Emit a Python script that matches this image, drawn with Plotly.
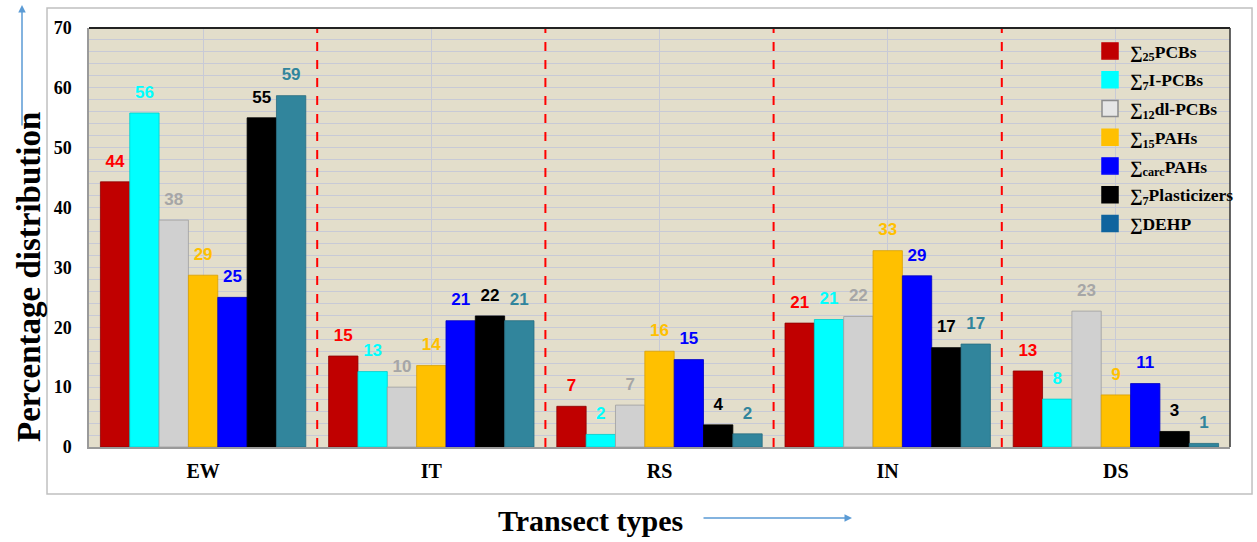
import plotly.graph_objects as go

categories = ["EW", "IT", "RS", "IN", "DS"]

series_names = [
    "∑<sub>25</sub>PCBs",
    "∑<sub>7</sub>I-PCBs",
    "∑<sub>12</sub>dl-PCBs",
    "∑<sub>15</sub>PAHs",
    "∑<sub>carc</sub>PAHs",
    "∑<sub>7</sub>Plasticizers",
    "∑DEHP",
]

pcbs25 = [44.3, 15.2, 6.8, 20.7, 12.7]
ipcbs7 = [55.8, 12.6, 2.1, 21.3, 8.0]
dlpcbs12 = [37.9, 10.0, 7.0, 21.8, 22.7]
pahs15 = [28.7, 13.6, 16.0, 32.8, 8.7]
carcpahs = [25.0, 21.1, 14.6, 28.6, 10.6]
plasticizers7 = [55.0, 21.9, 3.7, 16.6, 2.6]
dehp = [58.7, 21.1, 2.2, 17.2, 0.6]

series_values = [pcbs25, ipcbs7, dlpcbs12, pahs15, carcpahs, plasticizers7, dehp]

bar_colors = ["#C00000", "#00FFFF", "#D0D0D0", "#FFC000", "#0000FF", "#000000", "#31859C"]
legend_colors = ["#C00000", "#00FFFF", "#E6E6E6", "#FFC000", "#0000FF", "#000000", "#0F649E"]
label_colors = ["#FF0000", "#00FFFF", "#A6A6A6", "#FFC000", "#0000FF", "#000000", "#31859C"]
line_colors = ["#8B0000", "#00CCCC", "#A0A0A0", "#D9A000", "#0000C0", "#000000", "#276C80"]

y_ticks = [0, 10, 20, 30, 40, 50, 60, 70]

SERIF = "Liberation Serif, Times New Roman, serif"
SANS = "Liberation Sans, Arial, sans-serif"

fig = go.Figure()
# bars
for i, (name, vals) in enumerate(zip(series_names, series_values)):
    fig.add_trace(go.Bar(
        name=name, x=categories, y=vals, showlegend=False,
        marker=dict(color=bar_colors[i], line=dict(color=line_colors[i], width=0.8)),
        hoverinfo="x+y",
    ))
# value labels, grouped like the bars
for i, vals in enumerate(series_values):
    fig.add_trace(go.Scatter(
        x=categories, y=vals, mode="markers+text", showlegend=False,
        marker=dict(size=16, opacity=0),
        text=[f"{round(v)}" for v in vals],
        textposition="top center",
        textfont=dict(family=SANS, size=17, color=label_colors[i], weight="bold"),
        cliponaxis=False, hoverinfo="skip",
    ))
# legend entries (square swatches) on a hidden overlay axis
for i, name in enumerate(series_names):
    fig.add_trace(go.Scatter(
        x=[None], y=[None], mode="markers", name=name, legendgroup=f"g{i}",
        xaxis="x2", yaxis="y2",
        marker=dict(symbol="square", size=19, color=legend_colors[i],
                    line=dict(color="#8C8C8C" if i == 2 else legend_colors[i], width=1.5)),
    ))

shapes = []
for k in range(len(categories) - 1):
    shapes.append(dict(type="line", xref="x", yref="y", x0=k + 0.5, x1=k + 0.5,
                       y0=0, y1=70, line=dict(color="#FF0000", width=2, dash="dash")))
shapes.append(dict(type="line", xref="paper", yref="paper", x0=0, x1=1, y0=1, y1=1,
                   line=dict(color="#222222", width=2)))
shapes.append(dict(type="line", xref="paper", yref="paper", x0=1, x1=1, y0=0, y1=1,
                   line=dict(color="#333333", width=1.5)))
shapes.append(dict(type="rect", xref="paper", yref="paper", x0=-0.0368, x1=1.0193,
                   y0=-0.112, y1=1.0477, line=dict(color="#C0C0C0", width=1.5)))

annotations = [
    dict(text="<b>Percentage distribution</b>", xref="paper", yref="paper",
         x=(29 - 89) / 1141, y=(447 - 277) / 419, xanchor="center", yanchor="middle",
         textangle=-90, showarrow=False,
         font=dict(family=SERIF, size=33, color="#000000")),
    dict(text="<b>Transect types</b>", xref="paper", yref="paper",
         x=(590 - 89) / 1141, y=(447 - 520) / 419, xanchor="center", yanchor="middle",
         showarrow=False,
         font=dict(family=SERIF, size=30, color="#000000")),
    dict(text="", xref="paper", yref="paper", x=(22 - 89) / 1141, y=(447 - 5) / 419,
         ax=0, ay=122, showarrow=True, arrowhead=2, arrowsize=1, arrowwidth=1.5,
         arrowcolor="#5B9BD5"),
    dict(text="", xref="paper", yref="paper", x=(852 - 89) / 1141, y=(447 - 518) / 419,
         ax=-150, ay=0, showarrow=True, arrowhead=2, arrowsize=1, arrowwidth=1.5,
         arrowcolor="#5B9BD5"),
]

fig.update_layout(
    width=1257, height=542,
    margin=dict(l=89, r=27, t=28, b=95, autoexpand=False),
    paper_bgcolor="#FFFFFF",
    plot_bgcolor="#E3DECB",
    barmode="group", bargap=0.1, bargroupgap=0,
    scattermode="group", scattergap=0.1,
    showlegend=True,
    legend=dict(x=(1090 - 89) / 1141, y=(447 - 33) / 419, xanchor="left", yanchor="top",
                bgcolor="rgba(0,0,0,0)", tracegroupgap=3, itemwidth=30,
                font=dict(family=SERIF, size=17.5, color="#000000", weight="bold")),
    shapes=shapes,
    annotations=annotations,
    xaxis=dict(showgrid=True, gridcolor="#C8CAD6", gridwidth=1,
               showline=True, linecolor="#9A9A9A", linewidth=1.5,
               ticks="", ticklabelstandoff=5,
               tickfont=dict(family=SERIF, size=20, color="#000000", weight="bold")),
    yaxis=dict(range=[0, 70], tickvals=y_ticks, showgrid=True, gridcolor="#C8CAD6",
               gridwidth=1.2, zeroline=False,
               showline=True, linecolor="#9A9A9A", linewidth=1.5,
               ticks="", ticklabelstandoff=12,
               minor=dict(dtick=2, showgrid=True, gridcolor="#C8CAD6", gridwidth=1.2),
               tickfont=dict(family=SERIF, size=18, color="#000000", weight="bold")),
    xaxis2=dict(overlaying="x", visible=False, range=[0, 1]),
    yaxis2=dict(overlaying="y", visible=False, range=[0, 1]),
)

fig.write_html("out.html")
